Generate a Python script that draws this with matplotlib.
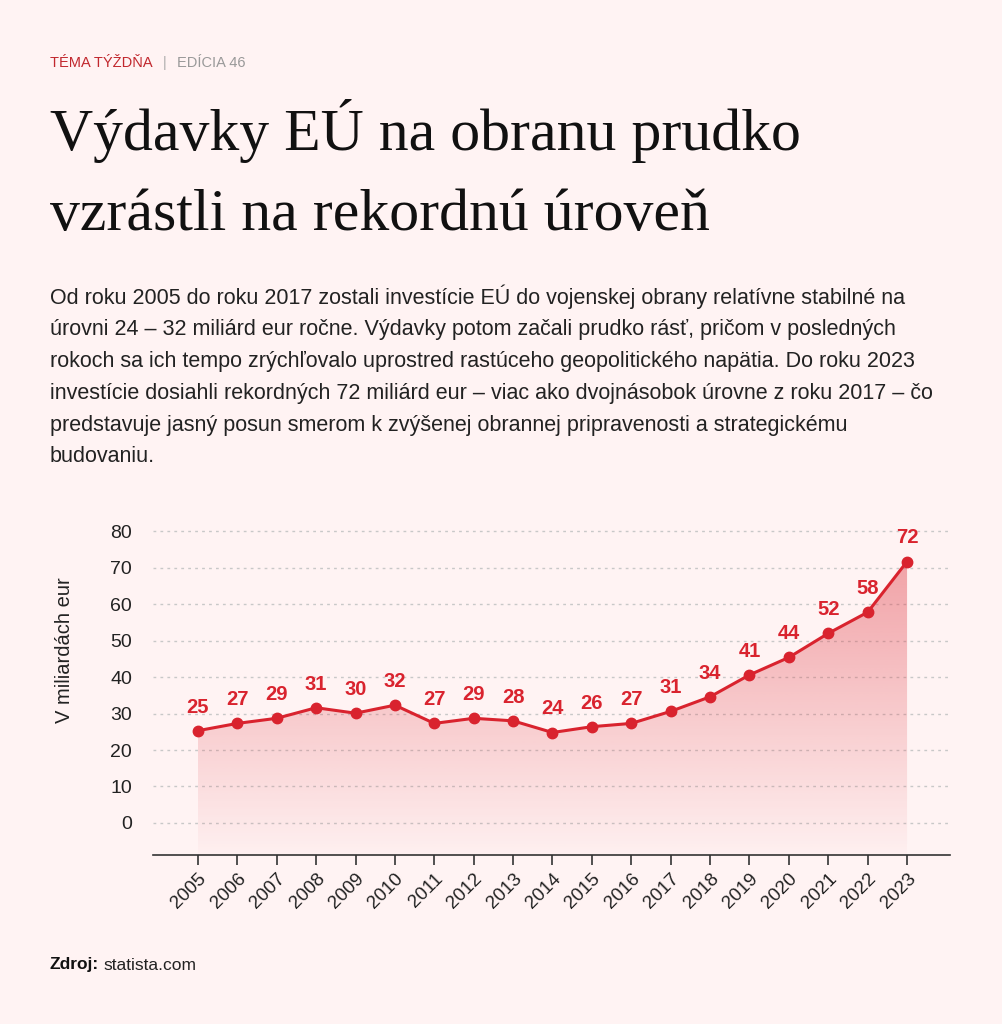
import numpy as np
import matplotlib.pyplot as plt
from matplotlib.patches import Polygon

# data
years = list(range(2005, 2024))
values = [25.3, 27.3, 28.7, 31.6, 30.1, 32.3, 27.3, 28.7, 28.0, 24.8,
          26.4, 27.3, 30.6, 34.6, 40.6, 45.4, 52.0, 57.8, 71.7]
labels = ["25", "27", "29", "31", "30", "32", "27", "29", "28", "24",
          "26", "27", "31", "34", "41", "44", "52", "58", "72"]
yticks = [0, 10, 20, 30, 40, 50, 60, 70, 80]

bg = "#FFF3F3"
red = "#D9232E"
sans = ["Liberation Sans", "DejaVu Sans"]
serif = ["Liberation Serif", "DejaVu Serif"]

plt.rcParams["font.family"] = sans

fig = plt.figure(figsize=(10.02, 10.24), dpi=100)
fig.patch.set_facecolor(bg)

# header
fig.text(50 / 1002, 1 - 63 / 1024, "TÉMA TÝŽDŇA", color="#C1272D", fontsize=10.5, va="center")
fig.text(163 / 1002, 1 - 63 / 1024, "|", color="#aaaaaa", fontsize=10.5, va="center")
fig.text(177 / 1002, 1 - 63 / 1024, "EDÍCIA 46", color="#999999", fontsize=10.5, va="center")

# title
fig.text(50 / 1002, 1 - 150 / 1024, "Výdavky EÚ na obranu prudko", family=serif,
         fontsize=43, color="#111111", va="baseline")
fig.text(50 / 1002, 1 - 230 / 1024, "vzrástli na rekordnú úroveň", family=serif,
         fontsize=43, color="#111111", va="baseline")

# intro paragraph
intro = [
    "Od roku 2005 do roku 2017 zostali investície EÚ do vojenskej obrany relatívne stabilné na",
    "úrovni 24 – 32 miliárd eur ročne. Výdavky potom začali prudko rásť, pričom v posledných",
    "rokoch sa ich tempo zrýchľovalo uprostred rastúceho geopolitického napätia. Do roku 2023",
    "investície dosiahli rekordných 72 miliárd eur – viac ako dvojnásobok úrovne z roku 2017 – čo",
    "predstavuje jasný posun smerom k zvýšenej obrannej pripravenosti a strategickému",
    "budovaniu.",
]
for i, line in enumerate(intro):
    fig.text(50 / 1002, 1 - (297 + 32 * i) / 1024, line, fontsize=15.5,
             color="#222222", va="center")

# chart
ax = fig.add_axes([153 / 1002, 1 - 855 / 1024, (950 - 153) / 1002, (855 - 524) / 1024])
ax.set_facecolor(bg)
ax.set_xlim(2003.86, 2024.09)
ax.set_ylim(-8.8, 82)

for t in yticks:
    ax.axhline(t, color="#c8c8c8", lw=1, ls=(0, (2, 3)), zorder=1)

# gradient fill under the line
ymin = -8.8
ymax = max(values)
grad = np.linspace(0, 1, 256).reshape(-1, 1)
rgba = np.zeros((256, 1, 4))
rgba[..., 0] = 0xE0 / 255
rgba[..., 1] = 0x40 / 255
rgba[..., 2] = 0x4A / 255
rgba[..., 3] = 0.02 + 0.43 * grad[:, :]
img = ax.imshow(rgba, extent=[years[0], years[-1], ymin, ymax], origin="lower",
                aspect="auto", zorder=2, interpolation="bilinear")
poly = Polygon(list(zip(years, values)) + [(years[-1], ymin), (years[0], ymin)],
               closed=True, facecolor="none", edgecolor="none")
ax.add_patch(poly)
img.set_clip_path(poly)

ax.plot(years, values, color=red, lw=2.2, marker="o", ms=7.5, zorder=4)
for x, v, lab in zip(years, values, labels):
    ax.annotate(lab, (x, v), xytext=(0, 13), textcoords="offset points",
                ha="center", va="baseline", color=red, fontsize=14.5,
                fontweight="bold", zorder=5)

ax.set_xticks(years)
ax.set_xticklabels([str(y) for y in years], rotation=45, ha="right",
                   rotation_mode="anchor", fontsize=13.5, color="#222222")
ax.set_yticks(yticks)
ax.set_yticklabels([str(t) for t in yticks], fontsize=14, color="#222222")
ax.tick_params(axis="y", length=0, pad=15)
ax.tick_params(axis="x", length=7, width=1.2, color="#333333", pad=4)
for s in ["top", "right", "left"]:
    ax.spines[s].set_visible(False)
ax.spines["bottom"].set_color("#333333")
ax.spines["bottom"].set_linewidth(1.2)
ax.set_ylabel("V miliardách eur", fontsize=14.5, color="#222222")
ax.yaxis.set_label_coords(-0.099, 0.619)

# source
fig.text(50 / 1002, 1 - 965 / 1024, "Zdroj:", fontweight="bold", fontsize=12.5,
         color="#111111", va="center")
fig.text(103 / 1002, 1 - 965 / 1024, "statista.com", fontsize=12.5,
         color="#222222", va="center")

fig.savefig("out.png", dpi=100, facecolor=bg)
